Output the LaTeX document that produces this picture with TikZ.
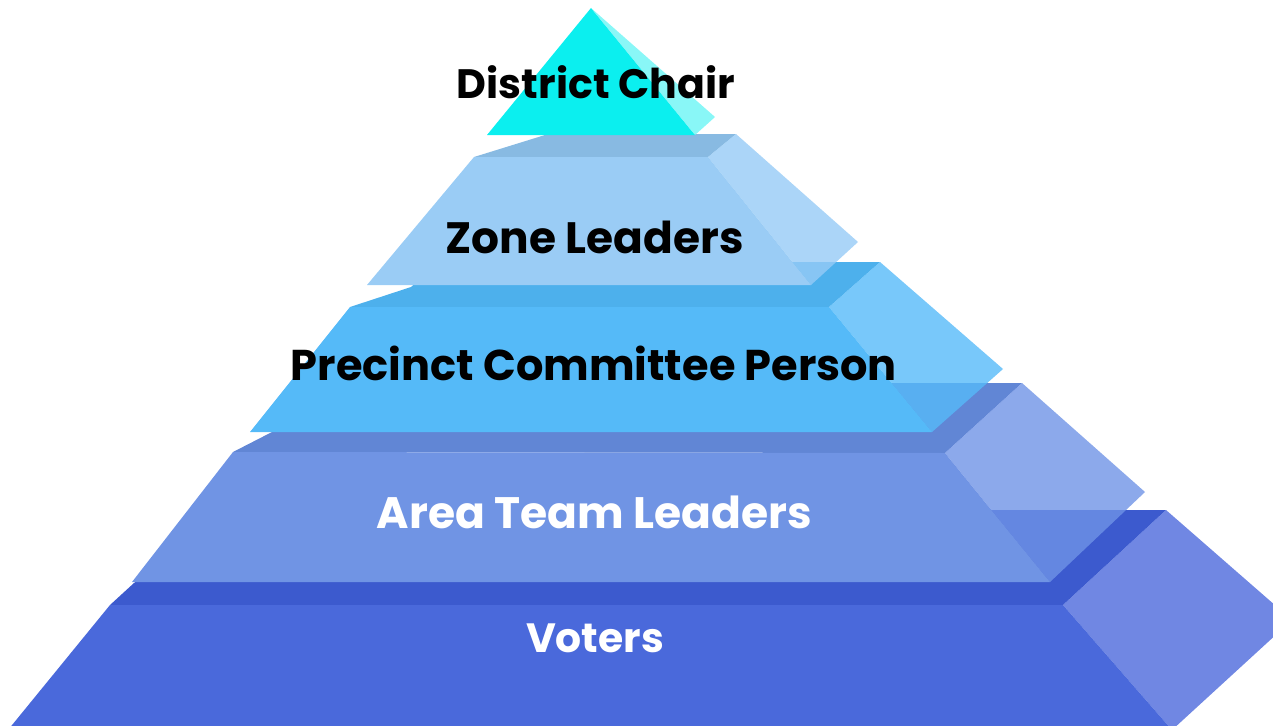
\documentclass[tikz,border=0pt]{standalone}
\usepackage{fontspec}
\setmainfont{Poppins}
\usepackage{graphicx}
\definecolor{triF}{HTML}{0BEFEF}
\definecolor{triS}{HTML}{6BF5F5}
\definecolor{zonT}{HTML}{88BAE2}
\definecolor{zonF}{HTML}{9ACCF5}
\definecolor{zonS}{HTML}{96CBF6}
\definecolor{preT}{HTML}{4DB0EC}
\definecolor{preF}{HTML}{55BAF8}
\definecolor{preS}{HTML}{56BAF9}
\definecolor{areT}{HTML}{6186D5}
\definecolor{areF}{HTML}{7094E4}
\definecolor{areS}{HTML}{6F93E6}
\definecolor{votT}{HTML}{3C5ACE}
\definecolor{votF}{HTML}{4A69DB}
\definecolor{votS}{HTML}{4C69DC}
\tikzset{
  sideface/.style={fill opacity=0.8},
  lab/.style={anchor=base, inner sep=0pt, font=\bfseries}
}
\begin{document}
\begin{tikzpicture}[x=1pt,y=-1pt]
\useasboundingbox (0,0) rectangle (1273,725);
\clip (0,0) rectangle (1273,725);
% Voters
\fill[votT] (110,605) -- (134,583) -- (250,510) -- (1166,510) -- (1063,605) -- cycle;
\fill[votF] (110,605) -- (1063,605) -- (1172,730) -- (8,730) -- cycle;
\fill[votS,sideface] (1166,510) -- (1292,620) -- (1172,730) -- (1063,605) -- cycle;
% Area Team Leaders
\fill[areT] (233,452) -- (272,432) -- (330,383) -- (1022,383) -- (945,453) -- cycle;
\fill[areF] (233,452) -- (945,453) -- (1050,582) -- (132,582) -- cycle;
\fill[areS,sideface] (1022,383) -- (1145,492) -- (1050,582) -- (945,453) -- cycle;
% Precinct Committee Person
\fill[preT] (350,307) -- (411,287) -- (440,262) -- (880,262) -- (829,307) -- cycle;
\fill[preF] (350,307) -- (829,307) -- (932,432) -- (250,432) -- cycle;
\fill[preS,sideface] (880,262) -- (1003,369) -- (932,432) -- (829,307) -- cycle;
% Zone Leaders
\fill[zonT] (474,157) -- (545,135) -- (736,134) -- (708,157) -- cycle;
\fill[zonF] (474,157) -- (708,157) -- (811,285) -- (367,285) -- cycle;
\fill[zonS,sideface] (736,134) -- (858,242) -- (811,285) -- (708,157) -- cycle;
% District Chair
\fill[triF] (591,8) -- (695,135) -- (487,135) -- cycle;
\fill[triS,sideface] (591,8) -- (715,117) -- (695,135) -- cycle;
% Labels
\node[lab, text=black] (dc) at (596,99) {\resizebox{278pt}{!}{District Chair}};
\node[lab, text=black] (zl) at (594.5,253) {\resizebox{298pt}{!}{Zone Leaders}};
\node[lab, text=black] (pc) at (594,380) {\resizebox{606pt}{!}{Precinct Committee Person}};
\node[lab, text=white] (al) at (594.5,528) {\resizebox{435pt}{!}{Area Team Leaders}};
\node[lab, text=white] (vo) at (595,652) {\resizebox{138pt}{!}{Voters}};
\end{tikzpicture}
\end{document}
